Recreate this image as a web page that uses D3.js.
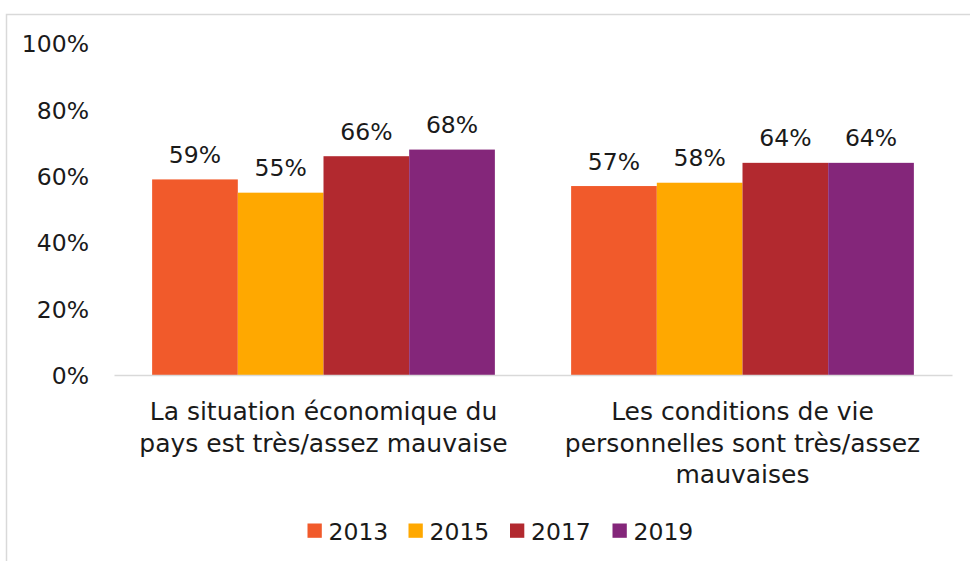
<!DOCTYPE html>
<html>
<head>
<meta charset="utf-8">
<script src="https://cdn.jsdelivr.net/npm/d3@7"></script>
<style>
  html, body { margin: 0; padding: 0; background: #fff; }
  svg { display: block; }
  text { font-family: "DejaVu Sans", sans-serif; fill: #1a1a1a; }
</style>
</head>
<body>
<svg id="chart" width="970" height="561"></svg>
<script>
const categories = [
  ["La situation économique du", "pays est très/assez mauvaise"],
  ["Les conditions de vie", "personnelles sont très/assez", "mauvaises"]
];
const categoryKeys = ["eco", "vie"];
const years = ["2013", "2015", "2017", "2019"];
const values2013 = [0.59, 0.57];
const values2015 = [0.55, 0.58];
const values2017 = [0.66, 0.64];
const values2019 = [0.68, 0.64];
const yTicks = [0, 0.2, 0.4, 0.6, 0.8, 1.0];
const colors = ["#F15A2B", "#FFA800", "#B2292F", "#84267A"];

const seriesValues = [values2013, values2015, values2017, values2019];

const svg = d3.select("#chart");
const FS = 23.5;
const FS_CAT = 25;

// outer border
svg.append("rect")
  .attr("x", 6.5).attr("y", 14.5)
  .attr("width", 1000).attr("height", 600)
  .attr("fill", "none").attr("stroke", "#d9d9d9").attr("stroke-width", 1.5);

const x0 = d3.scaleBand().domain(categoryKeys).range([114, 952])
  .paddingInner(0.182).paddingOuter(0.091);
const x1 = d3.scaleBand().domain(years).range([0, x0.bandwidth()]);
const y = d3.scaleLinear().domain([0, 1]).range([375, 43.5]);
const color = d3.scaleOrdinal().domain(years).range(colors);

// y axis labels
const yAxis = d3.axisLeft(y).tickValues(yTicks).tickFormat(d3.format(".0%")).tickSize(0).tickPadding(0);
const yg = svg.append("g").attr("transform", "translate(89,0)").call(yAxis);
yg.select(".domain").remove();
yg.selectAll("text").attr("font-size", FS).attr("font-family", "DejaVu Sans, sans-serif")
  .attr("fill", "#1a1a1a").attr("dy", "0.36em");

// bars
const groups = svg.append("g").selectAll("g")
  .data(categoryKeys)
  .join("g")
  .attr("transform", d => `translate(${x0(d)},0)`);

groups.selectAll("rect")
  .data((d, i) => years.map((yr, j) => ({ yr, v: seriesValues[j][i] })))
  .join("rect")
  .attr("x", d => x1(d.yr))
  .attr("y", d => y(d.v))
  .attr("width", x1.bandwidth())
  .attr("height", d => y(0) - y(d.v))
  .attr("fill", d => color(d.yr));

groups.selectAll("text.val")
  .data((d, i) => years.map((yr, j) => ({ yr, v: seriesValues[j][i] })))
  .join("text")
  .attr("class", "val")
  .attr("x", d => x1(d.yr) + x1.bandwidth() / 2)
  .attr("y", d => y(d.v) - 16.5)
  .attr("text-anchor", "middle")
  .attr("font-size", FS)
  .text(d => d3.format(".0%")(d.v));

// baseline
const xAxis = d3.axisBottom(x0).tickSize(0).tickFormat("");
const xg = svg.append("g").attr("transform", `translate(0,${y(0)})`).call(xAxis);
xg.select(".domain").attr("stroke", "#d9d9d9").attr("stroke-width", 1.5);

// category labels
categoryKeys.forEach((k, i) => {
  const t = svg.append("text")
    .attr("x", x0(k) + x0.bandwidth() / 2)
    .attr("y", 420)
    .attr("text-anchor", "middle")
    .attr("font-size", FS_CAT);
  categories[i].forEach((line, li) => {
    t.append("tspan").attr("x", x0(k) + x0.bandwidth() / 2)
      .attr("y", 420 + li * 31.6).text(line);
  });
});

// legend
const legendX = [307.5, 408.5, 510, 612.5];
const lg = svg.append("g");
years.forEach((yr, i) => {
  lg.append("rect").attr("x", legendX[i]).attr("y", 523.5)
    .attr("width", 14.3).attr("height", 14.3).attr("fill", color(yr));
  lg.append("text").attr("x", legendX[i] + 21).attr("y", 540)
    .attr("font-size", FS).text(yr);
});
</script>
</body>
</html>
